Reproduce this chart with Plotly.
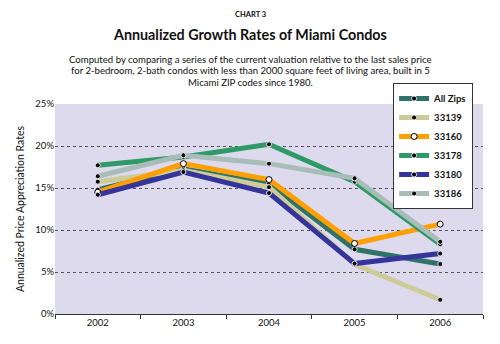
import plotly.graph_objects as go

years = ["2002", "2003", "2004", "2005", "2006"]
series_names = ["All Zips", "33139", "33160", "33178", "33180", "33186"]
all_zips = [14.8, 17.3, 15.5, 7.7, 5.95]
z33139 = [15.75, 17.1, 15.1, 5.9, 1.7]
z33160 = [14.5, 17.9, 16.0, 8.4, 10.7]
z33178 = [17.7, 18.7, 20.2, 15.75, 8.3]
z33180 = [14.2, 16.9, 14.4, 6.0, 7.2]
z33186 = [16.4, 18.9, 17.9, 16.15, 8.6]
colors = ["#2f7268", "#cdcc98", "#ffa000", "#2e9a68", "#34349a", "#a9bdb8"]
values = [all_zips, z33139, z33160, z33178, z33180, z33186]
y_ticks = [0, 5, 10, 15, 20, 25]

FONT = "Lato"

fig = go.Figure()
for name, vals, col in zip(series_names, values, colors):
    if name == "33160":
        marker = dict(size=6, color="white", line=dict(color="black", width=1))
    else:
        marker = dict(size=5, color="black", line=dict(color="#e8e8e8", width=1))
    fig.add_trace(go.Scatter(x=years, y=vals, name=f"<b>{name}</b>", mode="lines+markers",
                             line=dict(color=col, width=5), marker=marker))

fig.update_layout(
    width=500, height=344,
    margin=dict(l=55, r=17, t=104, b=30),
    paper_bgcolor="white", plot_bgcolor="#dddaee",
    font=dict(family=FONT, color="#111"),
    showlegend=True,
    legend=dict(x=0.79, y=1.1, xanchor="left", yanchor="top",
                bgcolor="white", bordercolor="#333", borderwidth=1,
                font=dict(size=9.5, family=FONT, color="#111"),
                tracegroupgap=0, itemwidth=30),
    xaxis=dict(type="category", showgrid=False, showline=True, linecolor="#333",
               ticks="outside", ticklen=4, tickcolor="#333", tickson="boundaries",
               tickfont=dict(size=9.5), range=[-0.5, 4.5]),
    yaxis=dict(range=[0, 25], tickvals=y_ticks, ticktext=[f"{v}%" for v in y_ticks],
               showgrid=True, gridcolor="#555", griddash="dot", gridwidth=1,
               zeroline=False, showline=False, tickfont=dict(size=9.5),
               title=dict(text="Annualized Price Appreciation Rates", font=dict(size=10.5), standoff=8)),
)
annos = [
    dict(text="<b>CHART 3</b>", y=14, size=7.5),
    dict(text="<b>Annualized Growth Rates of Miami Condos</b>", y=34, size=14.3),
    dict(text="Computed by comparing a series of the current valuation relative to the last sales price", y=59, size=9.6),
    dict(text="for 2-bedroom, 2-bath condos with less than 2000 square feet of living area, built in 5", y=71, size=9.6),
    dict(text="Micami ZIP codes since 1980.", y=83, size=9.6),
]
for a in annos:
    fig.add_annotation(text=a["text"], xref="paper", yref="paper", x=(250 - 55) / 428,
                       y=(314 - a["y"]) / 210, showarrow=False, xanchor="center", yanchor="middle",
                       font=dict(size=a["size"], family=FONT, color="#111"))

fig.write_html("out.html")
